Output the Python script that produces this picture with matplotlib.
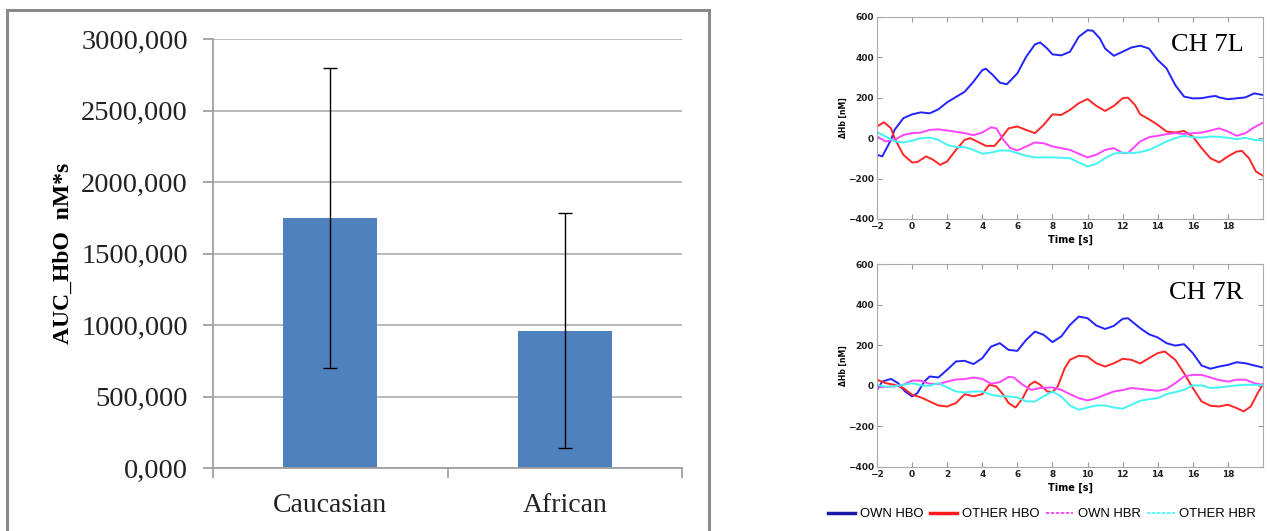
import matplotlib
matplotlib.use("Agg")
from matplotlib import pyplot as plt
from matplotlib.lines import Line2D
from matplotlib.patches import Rectangle
from matplotlib.ticker import FuncFormatter, MultipleLocator

# ---- AUC bar chart ----
groups = ["Caucasian", "African"]
auc_mean = [1750, 960]
auc_err = [1050, 820]

# ---- CH 7L time courses ----
t_own_hbo_7l = [-2, -1.7, -1.2, -1, -0.5, 0, 0.5, 1, 1.5, 2, 3, 3.5, 4, 4.2, 4.6, 5, 5.4, 6, 6.5, 7,
                7.3, 7.7, 8, 8.5, 9, 9.5, 10, 10.3, 10.7, 11, 11.5, 12, 12.5, 13, 13.5, 14, 14.5, 15,
                15.5, 16, 16.5, 17, 17.3, 17.5, 18, 19, 19.5, 20]
own_hbo_7l = [-82, -90, -8, 41, 99, 118, 128, 123, 143, 178, 230, 280, 337, 344, 313, 275, 267, 321, 403, 464,
              474, 444, 415, 410, 428, 502, 535, 532, 494, 444, 408, 428, 449, 458, 444, 387, 346, 263,
              206, 197, 198, 206, 209, 202, 193, 202, 222, 214]

t_other_hbo_7l = [-2, -1.6, -1.2, -1, -0.5, 0, 0.3, 0.8, 1.2, 1.6, 2, 2.5, 3, 3.3, 3.7, 4.2, 4.7, 5, 5.5, 6,
                  6.5, 7, 7.5, 8, 8.5, 9, 9.5, 10, 10.5, 11, 11.5, 12, 12.3, 12.7, 13, 13.5, 14, 14.5, 15,
                  15.5, 16, 16.5, 17, 17.5, 18, 18.5, 18.8, 19.2, 19.6, 20]
other_hbo_7l = [58, 79, 49, 0, -82, -120, -118, -90, -107, -132, -115, -58, -8, 0, -16, -38, -38, -8, 49, 58,
                41, 25, 66, 118, 115, 140, 173, 194, 160, 135, 160, 198, 201, 165, 118, 94, 66, 33, 28,
                36, 8, -49, -99, -120, -90, -66, -63, -99, -165, -186]

t_own_hbr_7l = [-2, -1.5, -1, -0.5, 0, 0.5, 1, 1.5, 2, 3, 3.5, 4, 4.5, 4.8, 5.2, 5.6, 6, 6.5, 7, 7.5,
                8, 8.5, 9, 9.5, 10, 10.5, 11, 11.5, 12, 12.3, 13, 13.5, 14, 14.5, 15, 15.5, 16, 16.5,
                17, 17.5, 18, 18.5, 19, 19.5, 20]
own_hbr_7l = [8, -16, -8, 16, 25, 28, 41, 44, 38, 25, 15, 28, 54, 49, -8, -49, -61, -41, -21, -25,
              -41, -49, -58, -77, -95, -82, -58, -49, -74, -74, -16, 5, 12, 20, 25, 21, 25, 28,
              38, 49, 33, 12, 25, 54, 77]

t_other_hbr_7l = [-2, -1.5, -1, -0.5, 0, 0.5, 1, 1.5, 2, 2.5, 3, 3.5, 4, 4.5, 5, 5.5, 6, 6.5, 7, 7.5,
                  8, 8.5, 9, 9.5, 10, 10.5, 11, 11.5, 12, 12.5, 13, 13.5, 14, 14.5, 15, 15.5, 16, 16.5,
                  17, 17.5, 18, 18.5, 19, 19.5, 20]
other_hbr_7l = [30, 8, -16, -21, -12, 0, 3, -8, -33, -44, -44, -58, -77, -71, -61, -61, -74, -87, -95, -95,
                -95, -97, -99, -120, -140, -127, -99, -77, -71, -74, -69, -58, -38, -16, 0, 12, 5, 3,
                8, 7, 2, -5, 2, -8, -12]

# ---- CH 7R time courses ----
t_own_hbo_7r = [-2, -1.7, -1.2, -0.8, -0.4, 0, 0.3, 0.7, 1, 1.5, 2, 2.5, 3, 3.5, 4, 4.5, 5, 5.5, 6, 6.5,
                7, 7.5, 8, 8.5, 9, 9.5, 10, 10.5, 11, 11.5, 12, 12.3, 13, 13.5, 14, 14.5, 15, 15.5,
                16, 16.5, 17, 17.5, 18, 18.5, 19, 19.5, 20]
own_hbo_7r = [-20, 21, 34, 13, -28, -52, -36, 21, 46, 41, 79, 120, 123, 107, 136, 193, 210, 177, 172, 226,
              267, 251, 215, 243, 300, 341, 333, 297, 280, 295, 330, 333, 284, 254, 238, 210, 198, 205,
              161, 100, 84, 95, 103, 116, 111, 100, 90]

t_other_hbo_7r = [-2, -1.5, -1, -0.5, 0, 0.5, 1, 1.5, 2, 2.5, 3, 3.5, 4, 4.4, 4.8, 5.2, 5.5, 5.9, 6.3, 6.7,
                  7, 7.3, 7.7, 8, 8.3, 8.7, 9, 9.5, 10, 10.5, 11, 11.5, 12, 12.5, 13, 13.5, 14, 14.4,
                  15, 15.5, 16, 16.5, 17, 17.5, 18, 18.5, 18.9, 19.3, 19.7, 20]
other_hbo_7r = [30, 13, 5, -11, -44, -57, -77, -97, -102, -85, -41, -52, -41, 5, -3, -44, -85, -107, -61, 5,
                21, 5, -28, -31, -3, 87, 128, 148, 144, 111, 95, 111, 133, 128, 110, 136, 161, 169,
                128, 62, -11, -77, -98, -102, -93, -110, -126, -102, -36, 8]

t_own_hbr_7r = [-2, -1, -0.5, 0, 0.5, 1, 1.5, 2, 2.5, 3, 3.5, 4, 4.5, 5, 5.5, 5.8, 6.3, 6.8, 7.3, 8,
                8.5, 9, 9.5, 10, 10.5, 11, 11.5, 12, 12.5, 13, 13.5, 14, 14.5, 15, 15.5, 16, 16.5,
                17, 17.5, 18, 18.5, 19, 19.5, 20]
own_hbr_7r = [-8, -3, 5, 26, 25, 10, 8, 21, 31, 33, 41, 34, 10, 18, 44, 41, 5, -20, -11, -8,
              -20, -41, -61, -72, -61, -44, -28, -21, -11, -15, -20, -25, -15, 13, 46, 54, 54,
              41, 28, 21, 30, 30, 13, 5]

t_other_hbr_7r = [-2, -1.5, -1, -0.5, 0, 0.5, 1, 1.5, 2, 2.5, 3, 3.5, 4, 4.5, 5, 5.5, 6, 6.5, 7, 7.5,
                  8, 8.5, 9, 9.5, 10, 10.5, 11, 11.5, 12, 12.5, 13, 13.5, 14, 14.5, 15, 15.5, 16, 16.5,
                  17, 17.5, 18, 18.5, 19, 19.5, 20]
other_hbr_7r = [5, -5, -3, 5, 13, 2, 0, 13, -8, -28, -33, -28, -28, -44, -52, -52, -57, -77, -77, -52,
                -28, -52, -97, -118, -107, -97, -97, -107, -113, -93, -74, -66, -61, -41, -31, -20, 2, 2,
                -11, -8, -3, 2, 5, 5, 2]

blue, red, magenta, cyan = "#2323ff", "#ff2626", "#ff44ff", "#44f4f4"
serif = "Liberation Serif"

fig = plt.figure(figsize=(12.70, 5.31), dpi=100)

# grey frame around the bar chart
fig.add_artist(Rectangle((7 / 1270, -0.05), 702 / 1270, 1.05 - 10 / 531, transform=fig.transFigure,
                         fill=False, ec="#8a8a8a", lw=2.2))

ax = fig.add_axes([213 / 1270, 63 / 531, 469 / 1270, 429 / 531])
x = list(range(len(groups)))
ax.bar(x, auc_mean, width=0.4, color="#4f81bd", zorder=2)
ax.errorbar(x, auc_mean, yerr=auc_err, fmt="none", ecolor="black", elinewidth=1, capsize=5,
            capthick=1, zorder=3)
ax.set_xlim(-0.5, 1.5)
ax.set_ylim(0, 3000)
ax.yaxis.set_major_locator(MultipleLocator(500))
ax.yaxis.set_major_formatter(FuncFormatter(lambda v, p: f"{v:.3f}".replace(".", ",")))
ax.yaxis.grid(True, color="#b4b4b4", lw=1.3, zorder=0)
ax.set_axisbelow(True)
ax.set_xticks([-0.5, 0.5, 1.5])
ax.set_xticklabels([])
ax.set_xticks(x, minor=True)
ax.set_xticklabels(groups, minor=True)
ax.tick_params(axis="x", which="major", length=7, color="#a0a0a0", width=1.3)
ax.tick_params(axis="x", which="minor", length=0, pad=18, labelsize=20)
ax.tick_params(axis="y", length=7, color="#a0a0a0", width=1.3, pad=11, labelsize=20.5)
for lab in ax.get_xticklabels(minor=True) + ax.get_yticklabels():
    lab.set_family(serif)
    lab.set_color("#222222")
ax.spines["top"].set_visible(False)
ax.spines["right"].set_visible(False)
for s in ["left", "bottom"]:
    ax.spines[s].set_color("#a0a0a0")
    ax.spines[s].set_linewidth(1.3)
ax.set_ylabel("AUC_HbO  nM*s", family=serif, fontweight="bold", fontsize=17, labelpad=5)

# ---- right hand time courses ----
def hb_panel(rect, curves, title):
    a = fig.add_axes(rect)
    for t, v, c in curves:
        a.plot(t, v, color=c, lw=1.4)
    a.set_xlim(-2, 20)
    a.set_ylim(-400, 600)
    a.set_xticks(range(-2, 20, 2))
    a.set_yticks(range(-400, 601, 200))
    a.tick_params(direction="in", length=3.5, top=True, right=True, color="#999999",
                  labelsize=6.5, pad=2)
    for lab in a.get_xticklabels() + a.get_yticklabels():
        lab.set_fontweight("bold")
        lab.set_color("#222222")
    for s in a.spines.values():
        s.set_color("#aaaaaa")
    a.set_xlabel("Time [s]", fontsize=7, fontweight="bold", labelpad=2.5)
    a.set_ylabel("\u0394Hb [nM]", fontsize=5.5, fontweight="bold", labelpad=0.5)
    a.text(0.95, 0.83, title, transform=a.transAxes, ha="right", va="baseline",
           family=serif, fontsize=19)
    return a

hb_panel([877 / 1270, 312 / 531, 386 / 1270, 202 / 531],
         [(t_own_hbo_7l, own_hbo_7l, blue), (t_other_hbo_7l, other_hbo_7l, red),
          (t_own_hbr_7l, own_hbr_7l, magenta), (t_other_hbr_7l, other_hbr_7l, cyan)], "CH 7L")
hb_panel([877 / 1270, 64 / 531, 386 / 1270, 203 / 531],
         [(t_own_hbo_7r, own_hbo_7r, blue), (t_other_hbo_7r, other_hbo_7r, red),
          (t_own_hbr_7r, own_hbr_7r, magenta), (t_other_hbr_7r, other_hbr_7r, cyan)], "CH 7R")

handles = [Line2D([], [], color="#1a1aa8", lw=2.5), Line2D([], [], color="#ff1a1a", lw=2.5),
           Line2D([], [], color="#ff33ff", lw=1.2, ls=(0, (2, 1))),
           Line2D([], [], color="#33ffff", lw=1.2, ls=(0, (2, 1)))]
fig.legend(handles, ["OWN HBO", "OTHER HBO", "OWN HBR", "OTHER HBR"], ncol=4, loc="center",
           bbox_to_anchor=(1042 / 1270, 1 - 514 / 531), frameon=False,
           handlelength=2.1, handletextpad=0.35, columnspacing=0.5, borderpad=0.2,
           prop={"family": "Liberation Sans", "size": 9.4})

fig.savefig("out.png", dpi=100)
